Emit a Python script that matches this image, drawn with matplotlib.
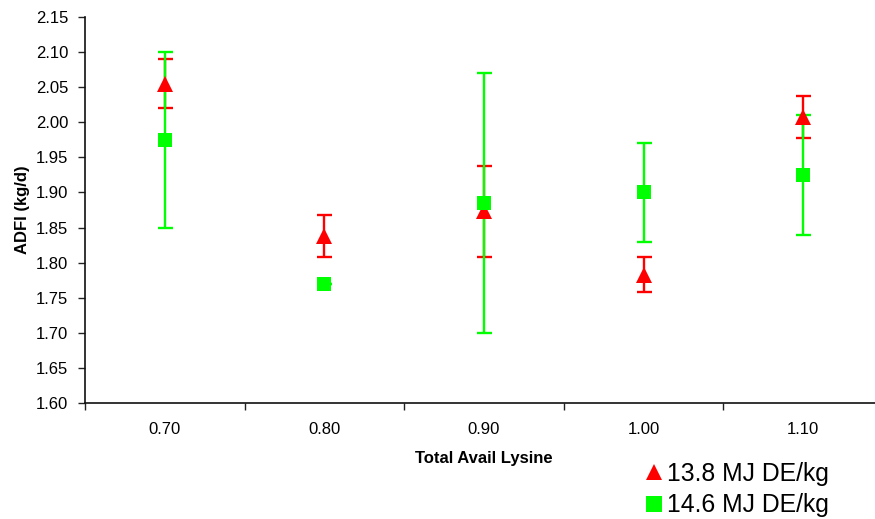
import matplotlib
matplotlib.use("Agg")
import matplotlib.pyplot as plt
from matplotlib.lines import Line2D
import numpy as np

plt.rcParams['font.family'] = ['Liberation Sans', 'DejaVu Sans']

lysine = ["0.70", "0.80", "0.90", "1.00", "1.10"]
series_names = ["13.8 MJ DE/kg", "14.6 MJ DE/kg"]

adfi_138 = [2.055, 1.838, 1.873, 1.783, 2.008]
err_138 = [0.035, 0.030, 0.065, 0.025, 0.030]

adfi_146 = [1.975, 1.770, 1.885, 1.900, 1.925]
err_146 = [0.125, 0.000, 0.185, 0.070, 0.085]

red = "#FF0000"
green = "#00FF00"

fig = plt.figure(figsize=(8.75, 5.19), dpi=100)
ax = fig.add_axes([85 / 875, 1 - 403 / 519, (883 - 85) / 875, (403 - 17) / 519])

x = np.arange(len(lysine))

# error bars first, then markers on top
ax.errorbar(x, adfi_138, yerr=err_138, fmt="none", ecolor=red, elinewidth=1.7,
            capsize=5.4, capthick=1.7, zorder=2)
ax.errorbar(x, adfi_146, yerr=err_146, fmt="none", ecolor=green, elinewidth=1.7,
            capsize=5.4, capthick=1.7, zorder=3)
ax.plot(x, adfi_138, linestyle="none", marker="^", markersize=11, color=red,
        markeredgewidth=0, zorder=4)
ax.plot(x, adfi_146, linestyle="none", marker="s", markersize=10.5, color=green,
        markeredgewidth=0, zorder=5)

ax.set_xlim(-0.5, len(lysine) - 0.5)
ax.set_ylim(1.60, 2.15)
ax.set_yticks(np.arange(1.60, 2.151, 0.05))
ax.set_yticklabels([f"{v:.2f}" for v in np.arange(1.60, 2.151, 0.05)])
ax.set_xticks(x)
ax.set_xticklabels(lysine)
ax.set_xticks(np.arange(-0.5, len(lysine)), minor=True)
ax.tick_params(axis="x", which="major", length=0, pad=14, labelsize=12)
ax.tick_params(axis="x", which="minor", length=5, width=1, color="#222222")
ax.tick_params(axis="y", length=5, width=1, pad=7, labelsize=12, color="#222222")

for side in ("top", "right"):
    ax.spines[side].set_visible(False)
for side in ("left", "bottom"):
    ax.spines[side].set_linewidth(1.2)
    ax.spines[side].set_color("#111111")

ax.set_ylabel("ADFI (kg/d)", fontsize=12, fontweight="bold", labelpad=4)
ax.set_xlabel("Total Avail Lysine", fontsize=12, fontweight="bold", labelpad=10)

handles = [
    Line2D([], [], linestyle="none", marker="^", markersize=12, color=red, markeredgewidth=0),
    Line2D([], [], linestyle="none", marker="s", markersize=11.5, color=green, markeredgewidth=0),
]
fig.legend(handles, series_names, loc="upper left", bbox_to_anchor=(645 / 875, 1 - 462 / 519),
           frameon=False, fontsize=17.8, handlelength=0.7, handletextpad=0.2,
           labelspacing=0.3, borderpad=0, borderaxespad=0)

fig.savefig("out.png", dpi=100)
